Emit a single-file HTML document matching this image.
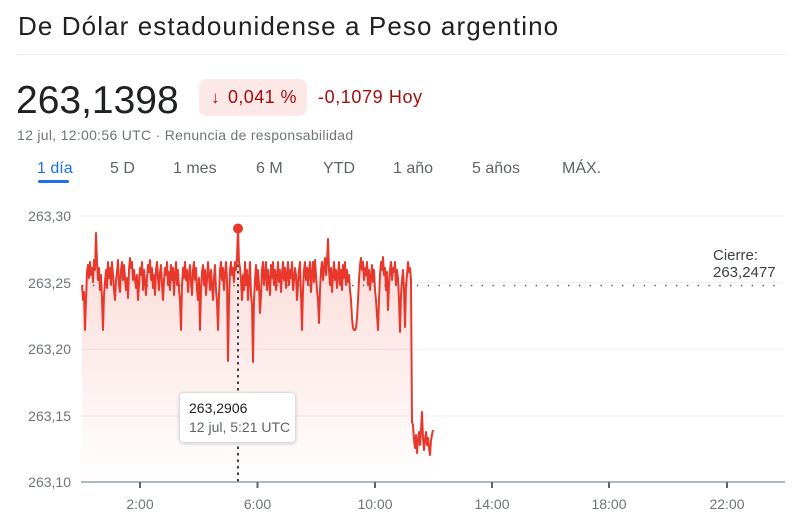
<!DOCTYPE html>
<html><head><meta charset="utf-8"><style>
html,body{margin:0;padding:0;background:#fff;}
svg{display:block;}
text{font-family:"Liberation Sans",Arial,sans-serif;}
</style></head><body>
<svg width="800" height="528" viewBox="0 0 800 528" xmlns="http://www.w3.org/2000/svg">
<defs>
<linearGradient id="fg" x1="0" y1="0" x2="0" y2="1" gradientUnits="userSpaceOnUse" x1v="0">
<stop offset="0" stop-color="#ea4335" stop-opacity="0.22"/>
<stop offset="1" stop-color="#ea4335" stop-opacity="0"/>
</linearGradient>
<linearGradient id="fg2" x1="0" y1="230" x2="0" y2="482" gradientUnits="userSpaceOnUse">
<stop offset="0" stop-color="#ea4335" stop-opacity="0.20"/>
<stop offset="1" stop-color="#ea4335" stop-opacity="0.0"/>
</linearGradient>
<filter id="sh" x="-10%" y="-20%" width="120%" height="150%"><feDropShadow dx="0" dy="1" stdDeviation="1.5" flood-color="#000" flood-opacity="0.18"/></filter>
</defs>
<rect width="800" height="528" fill="#fff"/>

<!-- Header -->
<text x="18" y="35" font-size="26" letter-spacing="1.1" fill="#202124">De Dólar estadounidense a Peso argentino</text>
<line x1="17" y1="54.5" x2="785" y2="54.5" stroke="#e8eaed" stroke-width="1"/>
<text x="16" y="113" font-size="39" fill="#202124">263,1398</text>
<rect x="199" y="79" width="108" height="37" rx="8" fill="#fce8e6"/>
<text x="211" y="103" font-size="17" fill="#a50e0e">↓</text>
<text x="228" y="103" font-size="18" letter-spacing="0.4" fill="#a50e0e">0,041 %</text>
<text x="318" y="103" font-size="18" letter-spacing="0.6" fill="#a50e0e">-0,1079 Hoy</text>
<text x="17" y="140" font-size="14" letter-spacing="0.3" fill="#70757a">12 jul, 12:00:56 UTC · Renuncia de responsabilidad</text>

<!-- Tabs -->
<g font-size="16" fill="#5f6368">
<text x="37" y="173" fill="#1a73e8">1 día</text>
<text x="110" y="173">5 D</text>
<text x="173" y="173">1 mes</text>
<text x="256" y="173">6 M</text>
<text x="323" y="173">YTD</text>
<text x="393" y="173">1 año</text>
<text x="472" y="173">5 años</text>
<text x="562" y="173">MÁX.</text>
</g>
<rect x="38" y="180" width="31" height="3" rx="1.5" fill="#1a73e8"/>

<!-- Grid -->
<g stroke="#eeeeee" stroke-width="1">
<line x1="80" y1="216" x2="784" y2="216"/>
<line x1="80" y1="282.7" x2="784" y2="282.7"/>
<line x1="80" y1="349.3" x2="784" y2="349.3"/>
<line x1="80" y1="416" x2="784" y2="416"/>
</g>

<!-- Y labels -->
<g font-size="14" fill="#70757a" text-anchor="end">
<text x="71" y="221">263,30</text>
<text x="71" y="288">263,25</text>
<text x="71" y="354">263,20</text>
<text x="71" y="421">263,15</text>
<text x="71" y="487">263,10</text>
</g>

<!-- Fill -->
<path fill="url(#fg2)" d="M82,285 L83,300 84,292 85,330 86,300 87,272 88,265 89,278 90,262 91,275 92,268 93,282 94,260 95,270 96,233 97,262 98,280 99,268 100,290 101,275 102,300 103,330 104,295 105,282 106,270 107,288 108,262 109,278 110,268 111,285 112,262 113,275 114,290 115,300 116,280 117,272 118,260 119,285 120,292 121,270 122,262 123,280 124,265 126,290 127,278 128,298 129,270 130,258 131,268 132,262 133,280 134,270 136,288 137,275 138,300 139,285 140,268 141,275 142,262 143,290 144,270 145,282 146,295 147,278 148,265 149,272 150,260 151,280 152,268 153,288 154,275 155,295 156,270 157,262 158,278 159,290 160,272 161,265 162,285 163,300 164,280 165,268 166,275 167,262 168,285 169,272 170,290 171,265 172,280 173,268 174,295 175,275 176,262 177,285 178,270 179,290 180,300 181,330 182,285 183,268 184,278 185,262 186,280 187,270 188,292 189,275 190,265 191,282 192,295 193,270 194,262 195,280 196,268 197,290 198,300 199,278 200,330 201,290 202,272 203,265 204,285 205,270 206,295 207,280 208,262 209,275 210,290 211,270 212,285 213,300 214,278 215,265 216,290 217,302 218,330 219,295 220,270 221,262 222,280 223,268 224,290 225,275 226,262 227,280 228,361 229,300 230,270 231,262 232,275 233,268 234,282 235,262 236,270 237,258 238,228 239,262 240,268 241,280 242,300 243,275 244,290 245,262 246,285 247,270 248,300 249,280 250,262 251,295 252,305 253,362 254,300 255,280 256,265 257,290 258,270 259,285 260,313 261,295 262,270 263,262 264,285 265,275 266,262 267,290 268,270 269,280 270,295 271,265 272,278 273,262 274,285 275,270 276,290 277,278 278,262 279,282 280,270 281,292 282,275 283,262 284,280 285,268 286,288 287,275 288,262 289,285 290,270 291,278 292,262 293,290 294,280 295,268 296,275 297,300 298,285 299,270 300,262 301,295 302,330 303,290 304,270 305,262 306,280 307,268 308,285 309,270 310,262 311,292 312,275 313,262 314,282 315,260 316,275 317,290 318,300 319,323 320,290 321,270 322,262 323,280 324,268 325,258 326,275 327,262 328,239 329,270 330,285 331,268 332,292 333,275 334,262 335,280 336,270 337,288 338,275 339,262 340,285 341,270 342,290 343,265 344,278 345,262 346,285 347,270 348,282 349,275 350,290 351,300 352,318 353,328 354,330 355,330 356,328 357,318 358,300 359,280 360,265 361,258 362,270 363,262 364,280 365,268 366,275 367,262 368,285 369,270 370,290 371,278 372,265 373,282 374,270 375,290 376,300 377,315 378,330 379,300 380,275 381,262 382,270 383,257 384,275 385,268 386,290 387,272 388,310 389,285 390,270 391,262 392,280 393,268 394,272 395,262 396,285 397,270 398,278 399,300 400,332 401,295 402,280 403,270 404,290 405,327 406,285 407,275 408,262 409,272 410,268 411,280 412,422 413,425 414,440 415,448 416,435 417,453 418,440 419,432 420,445 421,430 422,412 423,438 424,450 425,440 426,432 427,445 428,438 429,448 430,455 431,440 432,435 433,430 L433,482 L82,482 Z"/>

<!-- Close line -->
<line x1="82" y1="285.5" x2="784" y2="285.5" stroke="#5f6368" stroke-width="1.5" stroke-dasharray="1.5 9.3"/>

<!-- Vertical dotted -->
<line x1="238" y1="232" x2="238" y2="482" stroke="#3c4043" stroke-width="2" stroke-dasharray="2.5 4"/>

<!-- Line -->
<path fill="none" stroke="#e8382c" stroke-width="2" stroke-linejoin="round" d="M82,285 L83,300 84,292 85,330 86,300 87,272 88,265 89,278 90,262 91,275 92,268 93,282 94,260 95,270 96,233 97,262 98,280 99,268 100,290 101,275 102,300 103,330 104,295 105,282 106,270 107,288 108,262 109,278 110,268 111,285 112,262 113,275 114,290 115,300 116,280 117,272 118,260 119,285 120,292 121,270 122,262 123,280 124,265 126,290 127,278 128,298 129,270 130,258 131,268 132,262 133,280 134,270 136,288 137,275 138,300 139,285 140,268 141,275 142,262 143,290 144,270 145,282 146,295 147,278 148,265 149,272 150,260 151,280 152,268 153,288 154,275 155,295 156,270 157,262 158,278 159,290 160,272 161,265 162,285 163,300 164,280 165,268 166,275 167,262 168,285 169,272 170,290 171,265 172,280 173,268 174,295 175,275 176,262 177,285 178,270 179,290 180,300 181,330 182,285 183,268 184,278 185,262 186,280 187,270 188,292 189,275 190,265 191,282 192,295 193,270 194,262 195,280 196,268 197,290 198,300 199,278 200,330 201,290 202,272 203,265 204,285 205,270 206,295 207,280 208,262 209,275 210,290 211,270 212,285 213,300 214,278 215,265 216,290 217,302 218,330 219,295 220,270 221,262 222,280 223,268 224,290 225,275 226,262 227,280 228,361 229,300 230,270 231,262 232,275 233,268 234,282 235,262 236,270 237,258 238,228 239,262 240,268 241,280 242,300 243,275 244,290 245,262 246,285 247,270 248,300 249,280 250,262 251,295 252,305 253,362 254,300 255,280 256,265 257,290 258,270 259,285 260,313 261,295 262,270 263,262 264,285 265,275 266,262 267,290 268,270 269,280 270,295 271,265 272,278 273,262 274,285 275,270 276,290 277,278 278,262 279,282 280,270 281,292 282,275 283,262 284,280 285,268 286,288 287,275 288,262 289,285 290,270 291,278 292,262 293,290 294,280 295,268 296,275 297,300 298,285 299,270 300,262 301,295 302,330 303,290 304,270 305,262 306,280 307,268 308,285 309,270 310,262 311,292 312,275 313,262 314,282 315,260 316,275 317,290 318,300 319,323 320,290 321,270 322,262 323,280 324,268 325,258 326,275 327,262 328,239 329,270 330,285 331,268 332,292 333,275 334,262 335,280 336,270 337,288 338,275 339,262 340,285 341,270 342,290 343,265 344,278 345,262 346,285 347,270 348,282 349,275 350,290 351,300 352,318 353,328 354,330 355,330 356,328 357,318 358,300 359,280 360,265 361,258 362,270 363,262 364,280 365,268 366,275 367,262 368,285 369,270 370,290 371,278 372,265 373,282 374,270 375,290 376,300 377,315 378,330 379,300 380,275 381,262 382,270 383,257 384,275 385,268 386,290 387,272 388,310 389,285 390,270 391,262 392,280 393,268 394,272 395,262 396,285 397,270 398,278 399,300 400,332 401,295 402,280 403,270 404,290 405,327 406,285 407,275 408,262 409,272 410,268 411,280 412,422 413,425 414,440 415,448 416,435 417,453 418,440 419,432 420,445 421,430 422,412 423,438 424,450 425,440 426,432 427,445 428,438 429,448 430,455 431,440 432,435 433,430"/>

<!-- Marker -->
<circle cx="238" cy="228.5" r="5" fill="#e8382c"/>

<!-- Axis -->
<line x1="81" y1="482" x2="785" y2="482" stroke="#9aa0a6" stroke-width="1.5"/>
<g stroke="#5f6368" stroke-width="2">
<line x1="140" y1="482" x2="140" y2="488"/>
<line x1="257.5" y1="482" x2="257.5" y2="488"/>
<line x1="375" y1="482" x2="375" y2="488"/>
<line x1="492" y1="482" x2="492" y2="488"/>
<line x1="609" y1="482" x2="609" y2="488"/>
<line x1="727" y1="482" x2="727" y2="488"/>
</g>
<g font-size="14" fill="#70757a" text-anchor="middle">
<text x="140" y="509">2:00</text>
<text x="257.5" y="509">6:00</text>
<text x="375" y="509">10:00</text>
<text x="492" y="509">14:00</text>
<text x="609" y="509">18:00</text>
<text x="727" y="509">22:00</text>
</g>

<!-- Cierre -->
<text x="713" y="260" font-size="15" fill="#3c4043">Cierre:</text>
<text x="713" y="277" font-size="15" fill="#3c4043">263,2477</text>

<!-- Tooltip -->
<rect x="179.5" y="392.5" width="116" height="50" rx="4" fill="#fff" stroke="#dadce0" stroke-width="1" filter="url(#sh)"/>
<text x="189" y="413" font-size="14" fill="#202124">263,2906</text>
<text x="189" y="432" font-size="14" fill="#5f6368">12 jul, 5:21 UTC</text>
</svg>
</body></html>
